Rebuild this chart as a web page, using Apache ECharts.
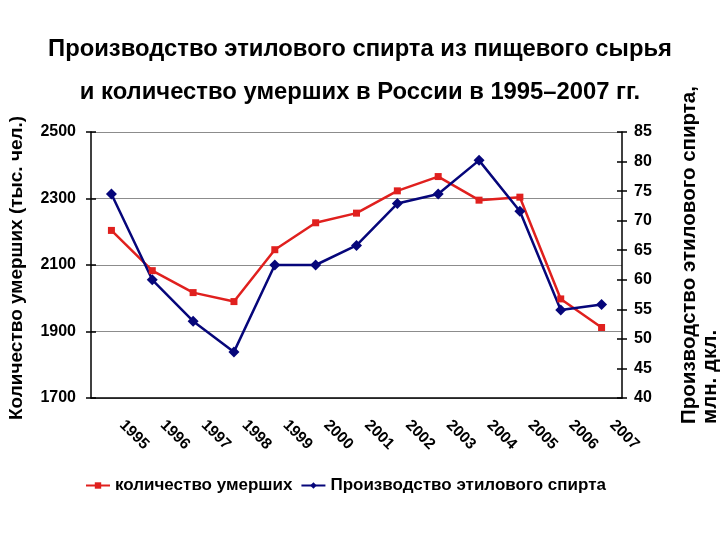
<!DOCTYPE html>
<html>
<head>
<meta charset="utf-8">
<script src="https://cdn.jsdelivr.net/npm/echarts@6/dist/echarts.min.js"></script>
<style>html,body{margin:0;padding:0;background:#fff}#c{width:720px;height:540px}</style>
</head>
<body>
<div id="c"></div>
<script>
var years = ['1995','1996','1997','1998','1999','2000','2001','2002','2003','2004','2005','2006','2007'];
var deaths = [2204, 2083, 2017, 1990, 2146, 2227, 2256, 2323, 2366, 2295, 2304, 1998, 1912];
var spirit = [74.5, 60.0, 53.0, 47.8, 62.5, 62.5, 65.8, 72.9, 74.5, 80.2, 71.6, 54.9, 55.8];
var leftTicks = {min: 1700, max: 2500, interval: 200};
var rightTicks = {min: 40, max: 85, interval: 5};
var titleLines = ['Производство этилового спирта из пищевого сырья', 'и количество умерших в России в 1995–2007 гг.'];
var leftName = 'Количество умерших (тыс. чел.)';
var rightName = ['Производство этилового спирта,', 'млн. дкл.'];
var seriesNames = ['количество умерших', 'Производство этилового спирта'];

var FONT = "'Liberation Sans', Arial, sans-serif";
var chart = echarts.init(document.getElementById('c'), null, {renderer: 'canvas'});
var axisLineStyle = {color: '#000', width: 1.5};
var plain = function (v) { return String(v); };
chart.setOption({
  animation: false,
  backgroundColor: '#fff',
  title: {
    text: titleLines.join('\n'),
    left: 355, top: 23, textAlign: 'center',
    textStyle: {fontFamily: FONT, fontWeight: 'bold', fontSize: 23.8, lineHeight: 43, color: '#000'}
  },
  grid: {left: 91, right: 98, top: 132, bottom: 142, containLabel: false},
  legend: {
    left: 80, top: 472, itemWidth: 24, itemHeight: 8, itemGap: 8,
    textStyle: {fontFamily: FONT, fontWeight: 'bold', fontSize: 17, color: '#000'},
    data: seriesNames
  },
  xAxis: {
    type: 'category', data: years, boundaryGap: true,
    axisLine: {lineStyle: axisLineStyle},
    axisTick: {length: 5, lineStyle: {color: '#000', width: 1.5}},
    axisLabel: {
      rotate: -45, align: 'left', verticalAlign: 'middle', margin: 14, padding: [0, 0, 0, 15],
      fontFamily: FONT, fontWeight: 'bold', fontSize: 15.5, color: '#000', interval: 0
    }
  },
  yAxis: [
    {
      type: 'value', position: 'left', min: leftTicks.min, max: leftTicks.max, interval: leftTicks.interval,
      axisLine: {show: true, lineStyle: axisLineStyle},
      axisTick: {show: true, length: 5, lineStyle: {color: '#000', width: 1.5}},
      axisLabel: {margin: 15, formatter: plain, fontFamily: FONT, fontWeight: 'bold', fontSize: 16, color: '#000'},
      splitLine: {show: true, lineStyle: {color: '#8c8c8c', width: 1.2}}
    },
    {
      type: 'value', position: 'right', min: rightTicks.min, max: rightTicks.max, interval: rightTicks.interval,
      axisLine: {show: true, lineStyle: axisLineStyle},
      axisTick: {show: true, length: 5, lineStyle: {color: '#000', width: 1.5}},
      axisLabel: {margin: 12, formatter: plain, fontFamily: FONT, fontWeight: 'bold', fontSize: 16, color: '#000'},
      splitLine: {show: false}
    },
    {
      type: 'value', position: 'left', min: leftTicks.min, max: leftTicks.max, interval: leftTicks.interval,
      axisLine: {show: false}, axisLabel: {show: false}, splitLine: {show: false},
      axisTick: {show: true, inside: true, length: 5, lineStyle: {color: '#000', width: 1.5}}
    },
    {
      type: 'value', position: 'right', min: rightTicks.min, max: rightTicks.max, interval: rightTicks.interval,
      axisLine: {show: false}, axisLabel: {show: false}, splitLine: {show: false},
      axisTick: {show: true, inside: true, length: 5, lineStyle: {color: '#000', width: 1.5}}
    }
  ],
  series: [
    {
      name: seriesNames[0], type: 'line', yAxisIndex: 0, data: deaths,
      symbol: 'rect', symbolSize: 7,
      lineStyle: {color: '#e0201e', width: 2.5},
      itemStyle: {color: '#e0201e'}
    },
    {
      name: seriesNames[1], type: 'line', yAxisIndex: 1, data: spirit,
      symbol: 'diamond', symbolSize: 11,
      lineStyle: {color: '#06067a', width: 2.5},
      itemStyle: {color: '#06067a'}
    }
  ],
  graphic: [
    {type: 'text', x: 17, y: 420, rotation: Math.PI / 2,
      style: {text: leftName, fontFamily: FONT, fontWeight: 'bold', fontSize: 19, fill: '#000', align: 'left', verticalAlign: 'middle'}},
    {type: 'text', x: 689, y: 424, rotation: Math.PI / 2,
      style: {text: rightName[0], fontFamily: FONT, fontWeight: 'bold', fontSize: 20.5, fill: '#000', align: 'left', verticalAlign: 'middle'}},
    {type: 'text', x: 710, y: 424, rotation: Math.PI / 2,
      style: {text: rightName[1], fontFamily: FONT, fontWeight: 'bold', fontSize: 20.5, fill: '#000', align: 'left', verticalAlign: 'middle'}}
  ]
});
</script>
</body>
</html>
